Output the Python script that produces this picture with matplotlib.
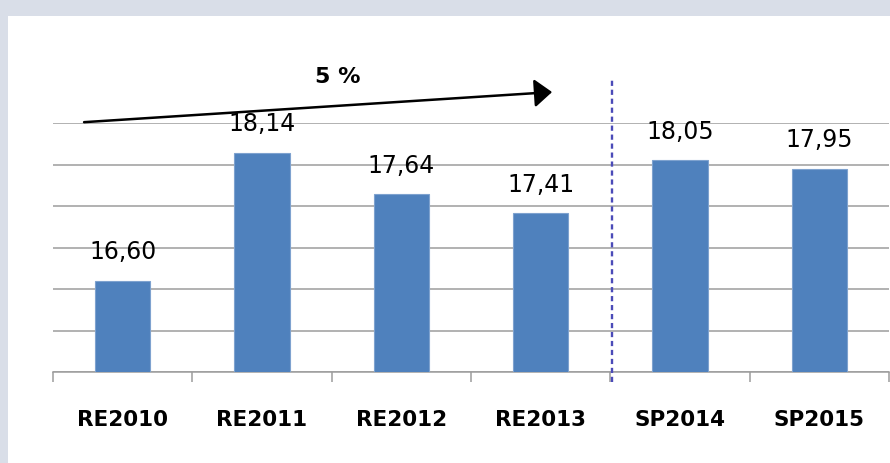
import matplotlib
matplotlib.use("Agg")
import matplotlib.pyplot as plt
from matplotlib.patches import Rectangle
import numpy as np

plt.rcParams['font.family'] = ['DejaVu Sans']

categories = ["RE2010", "RE2011", "RE2012", "RE2013", "SP2014", "SP2015"]
values = [16.60, 18.14, 17.64, 17.41, 18.05, 17.95]
value_labels = ["16,60", "18,14", "17,64", "17,41", "18,05", "17,95"]
growth_label = "5 %"

BAR_COLOR = "#4f81bd"
GRID_COLOR = "#9c9c9c"
BG_COLOR = "#d9dee8"

W, H = 890, 463
fig = plt.figure(figsize=(W / 100, H / 100), dpi=100, facecolor=BG_COLOR)

# white slide panel behind the chart
fig.patches.append(Rectangle((8 / W, 0), 1 - 8 / W, (H - 16) / H,
                             transform=fig.transFigure, facecolor="white",
                             edgecolor="none", zorder=-10))

ax = fig.add_axes([53 / W, (H - 372) / H, 836 / W, (372 - 123) / H])
ax.set_facecolor("none")

x = np.arange(len(categories))
ax.bar(x, values, width=0.395, color=BAR_COLOR, edgecolor="#7ea2cf",
       linewidth=0.8, zorder=3)

ax.set_xlim(-0.5, len(categories) - 0.5)
ax.set_ylim(15.5, 18.5)
ax.set_yticks(np.arange(15.5, 18.51, 0.5))
ax.yaxis.grid(True, color=GRID_COLOR, linewidth=1.1, zorder=0)
ax.tick_params(axis="y", left=False, labelleft=False)

for s in ["left", "right", "top"]:
    ax.spines[s].set_visible(False)
ax.spines["bottom"].set_color(GRID_COLOR)
ax.spines["bottom"].set_linewidth(1.1)

ax.set_xticks(x)
ax.set_xticklabels(categories, fontsize=15.5, fontweight="bold")
ax.tick_params(axis="x", which="major", length=0, pad=27.5)
ax.set_xticks(np.arange(-0.5, len(categories), 1.0), minor=True)
ax.tick_params(axis="x", which="minor", length=7.5, width=1.1, color=GRID_COLOR)

for xi, v, lab in zip(x, values, value_labels):
    ax.annotate(lab, (xi, v), xytext=(0, 15.5), textcoords="offset points",
                ha="center", va="baseline", fontsize=17, color="black",
                zorder=4, annotation_clip=False)

# separator between actuals and projections
ax.plot([3.512, 3.512], [15.38, 19.05], linestyle=(0, (2.2, 1.6)),
        color="#4b4bb8", linewidth=1.7, clip_on=False, zorder=4)

# growth arrow
ax.annotate("", xy=(3.082, 18.873), xytext=(-0.277, 18.51),
            arrowprops=dict(arrowstyle="-|>,head_length=0.4,head_width=0.32",
                            mutation_scale=27, color="black", linewidth=1.8,
                            shrinkA=0, shrinkB=0),
            annotation_clip=False, zorder=5)
ax.text(1.546, 19.05, growth_label, ha="center", va="center", fontsize=16,
        fontweight="bold", color="black")

fig.savefig("out.png", dpi=100, facecolor=BG_COLOR)
